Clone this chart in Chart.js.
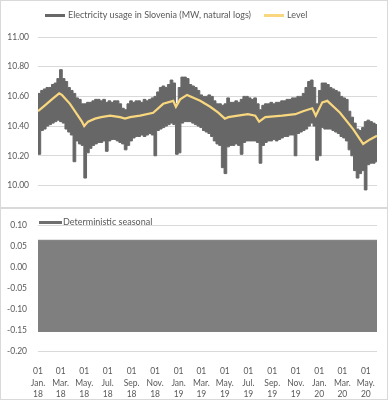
<!DOCTYPE html>
<html>
<head>
<meta charset="utf-8">
<script src="https://cdn.jsdelivr.net/npm/chart.js@4.4.1/dist/chart.umd.min.js"></script>
<style>
  html, body { margin: 0; padding: 0; background: #ffffff; }
  .panel { position: absolute; left: 0; width: 386px; border: 1px solid #d9d9d9; background: #fff; }
  #p1 { top: 0; height: 206px; }
  #p2 { top: 208px; height: 190px; }
  canvas { display: block; }
</style>
</head>
<body>
<div class="panel" id="p1"><canvas id="top" width="386" height="206"></canvas></div>
<div class="panel" id="p2"><canvas id="bottom" width="386" height="190"></canvas></div>
<script>
// ---------------- DATA ----------------
const seriesStart = '2018-01-01';
// Weekly envelope of hourly electricity usage (natural logs), week 0 starts 2018-01-01
const usageHigh = [
  10.62,10.64,10.65,10.66,10.66,10.68,10.69,10.72,10.78,10.72,
  10.70,10.66,10.64,10.62,10.59,10.58,10.55,10.55,10.56,10.56,
  10.57,10.58,10.58,10.57,10.58,10.56,10.57,10.56,10.57,10.57,
  10.55,10.52,10.51,10.55,10.57,10.56,10.57,10.57,10.56,10.58,
  10.57,10.58,10.59,10.60,10.63,10.66,10.67,10.66,10.68,10.71,
  10.69,10.55,10.66,10.73,10.73,10.72,10.68,10.67,10.66,10.64,
  10.61,10.60,10.60,10.61,10.60,10.57,10.55,10.55,10.54,10.55,
  10.59,10.56,10.56,10.57,10.56,10.58,10.60,10.60,10.59,10.58,
  10.59,10.55,10.51,10.54,10.55,10.55,10.56,10.55,10.56,10.56,
  10.57,10.57,10.58,10.58,10.59,10.59,10.60,10.60,10.62,10.66,
  10.70,10.71,10.66,10.55,10.64,10.69,10.69,10.68,10.66,10.65,
  10.64,10.63,10.60,10.59,10.58,10.50,10.46,10.42,10.38,10.37,
  10.39,10.43,10.44,10.43,10.42,10.41
];
const usageLow = [
  10.21,10.37,10.38,10.40,10.41,10.42,10.43,10.44,10.43,10.42,
  10.38,10.36,10.34,10.16,10.30,10.28,10.27,10.05,10.22,10.25,
  10.27,10.28,10.29,10.29,10.30,10.23,10.30,10.31,10.31,10.30,
  10.29,10.28,10.24,10.27,10.30,10.32,10.33,10.33,10.34,10.33,
  10.34,10.35,10.34,10.20,10.37,10.38,10.39,10.40,10.41,10.42,
  10.41,10.21,10.22,10.42,10.43,10.43,10.43,10.42,10.41,10.40,
  10.39,10.37,10.36,10.35,10.33,10.30,10.28,10.27,10.12,10.08,
  10.26,10.27,10.27,10.28,10.27,10.21,10.29,10.30,10.30,10.30,
  10.30,10.29,10.15,10.27,10.29,10.30,10.30,10.31,10.30,10.31,
  10.32,10.33,10.33,10.34,10.34,10.20,10.35,10.36,10.37,10.38,
  10.40,10.42,10.40,10.17,10.20,10.39,10.38,10.38,10.38,10.37,
  10.36,10.35,10.33,10.32,10.30,10.24,10.20,10.10,10.05,10.08,
  10.10,9.97,10.14,10.15,10.15,10.16
];
const levelDates = [
  '2018-01-01','2018-01-19','2018-02-06','2018-02-25','2018-03-04','2018-03-25','2018-04-12','2018-04-25',
  '2018-05-01','2018-05-11','2018-05-29','2018-06-14','2018-07-07','2018-08-02','2018-08-15','2018-08-28',
  '2018-09-23','2018-10-27','2018-11-22','2018-12-18','2018-12-25','2019-01-05','2019-01-23','2019-02-26',
  '2019-03-24','2019-04-14','2019-05-01','2019-05-10','2019-06-04','2019-06-30','2019-07-19','2019-07-29',
  '2019-08-14','2019-09-27','2019-10-31','2019-11-20','2019-12-14','2019-12-23','2020-01-09','2020-01-22',
  '2020-02-24','2020-03-29','2020-04-24','2020-05-12','2020-05-30'
];
const levelValues = [
  10.50,10.54,10.58,10.62,10.61,10.55,10.48,10.43,
  10.40,10.43,10.45,10.46,10.47,10.46,10.45,10.46,
  10.47,10.49,10.55,10.57,10.53,10.58,10.61,10.57,
  10.53,10.49,10.45,10.46,10.47,10.48,10.47,10.43,
  10.46,10.47,10.48,10.50,10.52,10.47,10.56,10.57,
  10.49,10.38,10.28,10.31,10.335
];
const seasonalDates = ['2018-01-01','2020-05-30'];
const seasonalHigh = [0.064, 0.064];
const seasonalLow = [-0.152, -0.152];
const tickDates = [
  '2018-01-01','2018-03-01','2018-05-01','2018-07-01','2018-09-01','2018-11-01',
  '2019-01-01','2019-03-01','2019-05-01','2019-07-01','2019-09-01','2019-11-01',
  '2020-01-01','2020-03-01','2020-05-01'
];
const monthAbbr = ['Jan.','Feb.','Mar.','Apr.','May.','Jun.','Jul.','Aug.','Sep.','Oct.','Nov.','Dec.'];
const yTicksTop = [10.00, 10.20, 10.40, 10.60, 10.80, 11.00];
const yTicksBottom = [-0.20, -0.15, -0.10, -0.05, 0.00, 0.05, 0.10];
const labelUsage = 'Electricity usage in Slovenia (MW, natural logs)';
const labelLevel = 'Level';
const labelSeasonal = 'Deterministic seasonal';

// ---------------- HELPERS ----------------
function dayOf(s) {
  const [y, m, d] = s.split('-').map(Number);
  const [y0, m0, d0] = seriesStart.split('-').map(Number);
  return (Date.UTC(y, m - 1, d) - Date.UTC(y0, m0 - 1, d0)) / 86400000;
}
function weekly(arr) {
  const pts = arr.map((v, i) => ({ x: i * 7, y: v }));
  pts.push({ x: arr.length * 7, y: arr[arr.length - 1] });
  return pts;
}
const X_MAX = dayOf('2020-05-30');
const tickDays = tickDates.map(dayOf);
const tickLabels = tickDates.map(s => {
  const [y, m, d] = s.split('-');
  return [d, monthAbbr[Number(m) - 1], y.slice(2)];
});

const GRAY = '#676767';
const GRAY2 = '#7f7f7f';
const YELLOW = '#f8d77f';
const GRID = '#d9d9d9';
const TXT = '#595959';
const FONT = 'Lato';

const legendPlugin = {
  id: 'customLegend',
  afterDraw(chart, args, opts) {
    const ctx = chart.ctx;
    ctx.save();
    ctx.font = opts.fontSize + 'px ' + FONT;
    ctx.textBaseline = 'middle';
    ctx.textAlign = 'left';
    let x = opts.x;
    opts.items.forEach(it => {
      ctx.fillStyle = it.color;
      ctx.fillRect(x, opts.y - it.h / 2, it.w, it.h);
      ctx.fillStyle = TXT;
      const tx = x + it.w + it.gap;
      ctx.fillText(it.text, tx, opts.y);
      x = tx + ctx.measureText(it.text).width + opts.spacing;
    });
    ctx.restore();
  }
};

// ---------------- TOP CHART ----------------
new Chart(document.getElementById('top'), {
  type: 'line',
  plugins: [legendPlugin],
  data: {
    datasets: [
      { label: 'low', data: weekly(usageLow), borderColor: GRAY, borderWidth: 1, pointRadius: 0, stepped: true, fill: false, order: 2 },
      { label: labelUsage, data: weekly(usageHigh), borderColor: GRAY, backgroundColor: GRAY, borderWidth: 1, pointRadius: 0, stepped: true, fill: '-1', order: 2 },
      { label: labelLevel, data: levelDates.map((d, i) => ({ x: dayOf(d), y: levelValues[i] })), borderColor: YELLOW, borderWidth: 2.2, pointRadius: 0, tension: 0, fill: false, order: 1 }
    ]
  },
  options: {
    responsive: false, animation: false, events: [],
    layout: { padding: { top: 36, bottom: 12.5, right: 10, left: 0 } },
    plugins: {
      legend: { display: false }, tooltip: { enabled: false },
      customLegend: {
        x: 44, y: 14.5, fontSize: 9, spacing: 13,
        items: [
          { text: labelUsage, color: GRAY, w: 20, h: 3, gap: 3 },
          { text: labelLevel, color: YELLOW, w: 20, h: 3, gap: 3 }
        ]
      }
    },
    scales: {
      x: { type: 'linear', min: 0, max: X_MAX, display: false },
      y: {
        min: 9.95, max: 11,
        afterBuildTicks: s => { s.ticks = yTicksTop.map(v => ({ value: v })); },
        afterFit: s => { s.width = 37; },
        grid: { color: GRID, drawTicks: false, lineWidth: 1 },
        border: { display: false },
        ticks: { padding: 9, color: TXT, font: { family: FONT, size: 8.5 }, callback: v => Number(v).toFixed(2) }
      }
    }
  }
});

// ---------------- BOTTOM CHART ----------------
new Chart(document.getElementById('bottom'), {
  type: 'line',
  plugins: [legendPlugin],
  data: {
    datasets: [
      { label: 'low', data: seasonalDates.map((d, i) => ({ x: dayOf(d), y: seasonalLow[i] })), borderColor: GRAY2, borderWidth: 1, pointRadius: 0, fill: false },
      { label: labelSeasonal, data: seasonalDates.map((d, i) => ({ x: dayOf(d), y: seasonalHigh[i] })), borderColor: GRAY2, backgroundColor: GRAY2, borderWidth: 1, pointRadius: 0, fill: '-1' }
    ]
  },
  options: {
    responsive: false, animation: false, events: [],
    layout: { padding: { top: 11, bottom: 0, right: 10, left: 0 } },
    plugins: {
      legend: { display: false }, tooltip: { enabled: false },
      customLegend: {
        x: 38, y: 13.5, fontSize: 9, spacing: 8,
        items: [ { text: labelSeasonal, color: '#6f6f6f', w: 23, h: 3, gap: 1 } ]
      }
    },
    scales: {
      x: {
        type: 'linear', min: 0, max: X_MAX,
        afterBuildTicks: s => { s.ticks = tickDays.map(v => ({ value: v })); },
        afterFit: s => { s.height = 47.3; },
        grid: { display: false }, border: { display: false },
        ticks: {
          autoSkip: false, maxRotation: 0, minRotation: 0, padding: 5.7, color: TXT,
          font: { family: FONT, size: 8.5, lineHeight: 1.375 },
          callback: (v, i) => tickLabels[i]
        }
      },
      y: {
        min: -0.2, max: 0.1,
        afterBuildTicks: s => { s.ticks = yTicksBottom.map(v => ({ value: v })); },
        afterFit: s => { s.width = 37; },
        grid: { color: GRID, drawTicks: false, lineWidth: 1 },
        border: { display: false },
        ticks: { padding: 11, color: TXT, font: { family: FONT, size: 8.5 }, callback: v => Number(v).toFixed(2) }
      }
    }
  }
});
</script>
</body>
</html>
